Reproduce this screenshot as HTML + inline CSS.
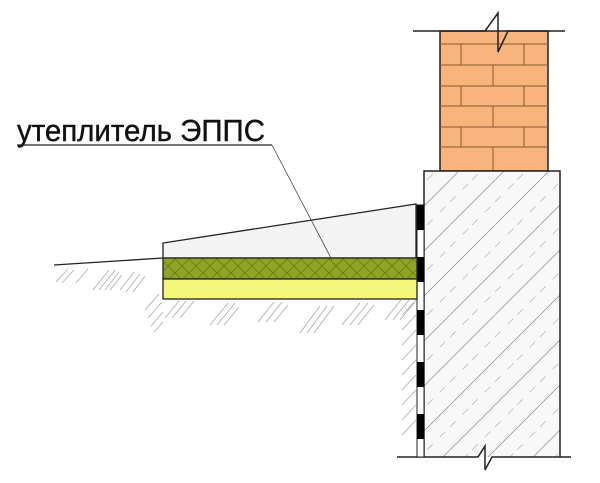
<!DOCTYPE html>
<html><head><meta charset="utf-8"><style>html,body{margin:0;padding:0;background:#fff}svg{display:block}</style></head><body>
<svg width="600" height="483" viewBox="0 0 600 483" xmlns="http://www.w3.org/2000/svg">
<defs>
<pattern id="conc" patternUnits="userSpaceOnUse" width="45" height="45">
<line x1="0" y1="45" x2="45" y2="0" stroke="#9a9a9a" stroke-width="0.8"/>
<line x1="22" y1="45" x2="45" y2="22" stroke="#bbb" stroke-width="0.8" stroke-dasharray="8 10"/>
<line x1="0" y1="22" x2="22" y2="0" stroke="#bbb" stroke-width="0.8" stroke-dasharray="8 10"/>
</pattern>
<pattern id="xh" patternUnits="userSpaceOnUse" width="14" height="14">
<rect width="14" height="14" fill="#8fa426"/>
<path d="M0 0L14 14M14 0L0 14" stroke="#6a7d18" stroke-width="0.8"/>
</pattern>
</defs>
<!-- soil hatch -->
<g stroke="#aaa" stroke-width="0.8">
<path d="M56 282l12-13M62 283l12-13M76 283l12-14"/>
<path d="M93 290l16-20M99 290l16-20M105 290l14-18M110 290l12-15"/>
<path d="M120 290l14-18M126 292l14-18M133 292l12-16"/>
<path d="M145 310l14-16M148 318l14-16M151 326l12-14M154 332l9-10"/>
<path d="M165 318l14-17M172 318l14-17M180 318l14-17"/>
<path d="M210 325l18-22M217 325l18-22M224 325l15-18"/>
<path d="M258 322l16-20M266 322l16-20M274 322l14-17"/>
<path d="M300 333l20-27M307 333l20-27M314 333l20-27"/>
<path d="M342 325l18-22M350 325l18-22M358 325l16-20"/>
<path d="M385 320l16-20M393 320l16-20M400 320l14-17"/>
<path d="M402 315l14-15M402 330l14-15M402 345l14-15M402 360l14-15M402 375l14-15M402 390l14-15M402 405l14-15M402 420l14-15M402 435l14-15"/>
</g>
<!-- brick -->
<rect x="440" y="31" width="108" height="140" fill="#f7b47c" stroke="#222" stroke-width="1.5"/>
<g stroke="#8a5a30" stroke-width="1">
<line x1="440" y1="44" x2="548" y2="44"/><line x1="440" y1="65" x2="548" y2="65"/><line x1="440" y1="86" x2="548" y2="86"/><line x1="440" y1="106" x2="548" y2="106"/><line x1="440" y1="127" x2="548" y2="127"/><line x1="440" y1="147" x2="548" y2="147"/>
<line x1="461" y1="44" x2="461" y2="65"/><line x1="524" y1="44" x2="524" y2="65"/>
<line x1="493" y1="65" x2="493" y2="86"/>
<line x1="461" y1="86" x2="461" y2="106"/><line x1="524" y1="86" x2="524" y2="106"/>
<line x1="493" y1="106" x2="493" y2="127"/>
<line x1="461" y1="127" x2="461" y2="147"/><line x1="524" y1="127" x2="524" y2="147"/>
<line x1="493" y1="147" x2="493" y2="171"/>
</g>
<path d="M413 31 L485 31 L498 13 L498 52 L508 31 L565 31" fill="none" stroke="#222" stroke-width="1.5"/>
<!-- foundation -->
<rect x="424" y="171" width="136" height="286" fill="#f8f8f8"/>
<rect x="424" y="171" width="136" height="286" fill="url(#conc)"/>
<path d="M424 457 L424 171 L560 171 L560 457" fill="none" stroke="#222" stroke-width="1.5"/>
<path d="M397 457 L478 457 L485 446 L485 470 L492 457 L571 457" fill="none" stroke="#222" stroke-width="1.5"/>
<!-- waterproofing -->
<rect x="417" y="205" width="7" height="252" fill="#fff" stroke="#222" stroke-width="1"/>
<g fill="#000"><rect x="417" y="205" width="7" height="25"/><rect x="417" y="257" width="7" height="25"/><rect x="417" y="310" width="7" height="25"/><rect x="417" y="362" width="7" height="25"/><rect x="417" y="414" width="7" height="25"/></g>
<!-- blind area -->
<path d="M163 258 L163 243 L416 204 L416 258 Z" fill="#f4f4f4" stroke="#222" stroke-width="1.3"/>
<rect x="163" y="258" width="254" height="21" fill="url(#xh)" stroke="#222" stroke-width="1.3"/>
<rect x="163" y="279" width="254" height="20" fill="#f5f77c" stroke="#222" stroke-width="1.3"/>
<line x1="54" y1="265" x2="163" y2="258" stroke="#222" stroke-width="1.3"/>
<!-- label -->
<text x="17" y="141" font-family="Liberation Sans, sans-serif" font-size="31" textLength="248" lengthAdjust="spacingAndGlyphs" fill="#111" stroke="#111" stroke-width="0.4">утеплитель ЭППС</text>
<line x1="17" y1="145" x2="272" y2="145" stroke="#222" stroke-width="1.3"/>
<line x1="272" y1="145" x2="332" y2="260" stroke="#444" stroke-width="0.8"/>
</svg>
</body></html>
